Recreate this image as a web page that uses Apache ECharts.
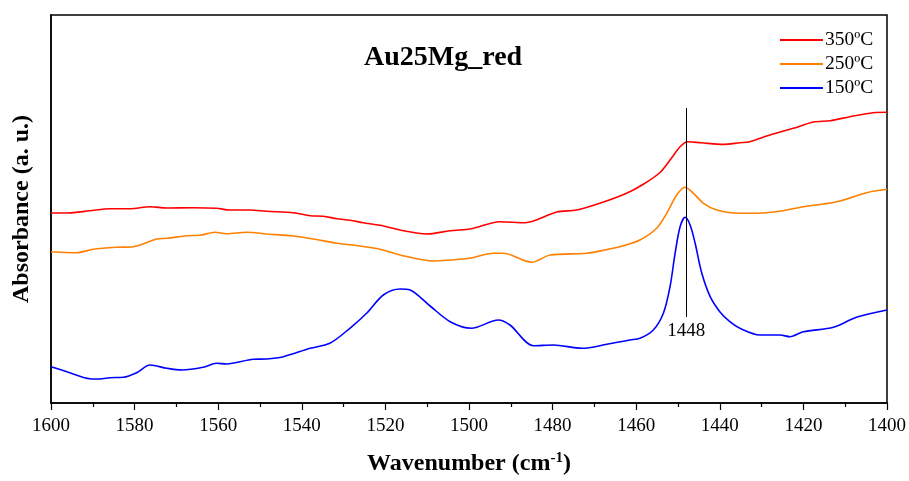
<!DOCTYPE html>
<html>
<head>
<meta charset="utf-8">
<script src="https://cdn.jsdelivr.net/npm/echarts@6/dist/echarts.min.js"></script>
<style>html,body{margin:0;padding:0;background:#fff;}#c{width:909px;height:481px;}</style>
</head>
<body>
<div id="c"></div>
<script>
// ---- data (wavenumber in cm-1, absorbance in arbitrary units) ----
const seriesNames = ['350ºC', '250ºC', '150ºC'];
const xTicks = [1600, 1580, 1560, 1540, 1520, 1500, 1480, 1460, 1440, 1420, 1400];
const peakPosition = 1448;
const peakMarkerRange = [86, 295];

const red_x = [1600,1596,1590.7,1585.9,1581.1,1576.3,1572.3,1566,1560.4,1557.2,1552.4,1548.4,1542,1538,1534.9,1531.6,1528.5,1525.3,1521.3,1516.5,1510.1,1504.5,1499.4,1492.6,1486.6,1479,1474.2,1468.7,1462.3,1458.3,1454.3,1451.9,1449.5,1447.7,1444.5,1439.2,1435.2,1432.8,1428,1422.4,1417.6,1413.6,1408.9,1403.3,1400];
const red_y = [190,190,192.3,194.3,194.3,196.3,195,195.3,194.7,193,193,191.7,190.3,187.3,186.7,184.3,182.7,180.3,177.7,173,169,172.3,174.3,181.3,180.3,191,193,199.7,209.7,218.7,230.5,243,256.3,261.3,260.3,258.6,260.3,261.3,268,274.7,281,282.3,286.3,290.3,290.7];

const orange_x = [1600,1593.9,1589.9,1584.3,1580.3,1574.7,1572.3,1567.5,1564.4,1560.8,1558,1553.2,1548.4,1542,1537.2,1531.6,1526.1,1521.3,1516.5,1508.5,1504.5,1499.8,1494.2,1491.8,1485,1480.6,1471.8,1467.5,1463.1,1459.1,1455.1,1452.7,1450.3,1448.3,1446.3,1443.9,1440.7,1435.2,1430,1424.8,1420,1415.2,1411.2,1404.9,1400];
const orange_y = [151.3,150.3,153.7,155.7,156.3,164,164.7,167.3,167.7,170.7,169.3,170.7,169,167,164,159.7,157,153.7,148,142,143,144.7,149.7,149.7,140.7,148,149.7,153,157.3,163,174.7,189.7,208,215.7,209.7,199.7,193,189.7,190,192.3,196.3,199,202,210.3,213.7];

const blue_x = [1600,1596.2,1590.7,1588.3,1585.9,1582.7,1579.5,1576.3,1572.3,1568.7,1563.6,1560.4,1558,1551.6,1548.4,1544.4,1538,1533.3,1528.5,1524.5,1520.5,1516.5,1514.1,1509.3,1504.5,1499.4,1493,1490.2,1484.6,1479.8,1473,1467,1461.5,1459.1,1455.9,1453.5,1451.9,1450.7,1449.5,1448.3,1447.1,1445.9,1444.3,1442.3,1440,1437.6,1435.2,1430.4,1425.6,1423.2,1420,1412.8,1407.3,1400];
const blue_y = [36.3,31.3,24.3,24,25.3,25.7,30.3,38,34.7,33,35.7,39.7,39,43.7,44,46.3,54.7,59.7,74.7,89.7,108,114,113,97,81.3,74.7,83,78,57.3,58,54.7,58.7,63,64.7,73,89.7,116.3,149.7,176.3,185.7,178,159.7,129.7,106.3,91.3,81.3,74.7,68,68,66.3,71.3,75.7,85.7,93];

const colors = ['#ff0000', '#ff8000', '#0000ff'];
const FONT = '"Liberation Serif", "Times New Roman", serif';

function zip(xs, ys) { return xs.map((x, i) => [x, ys[i]]); }

const chart = echarts.init(document.getElementById('c'), null, { renderer: 'canvas' });

const seriesData = [zip(red_x, red_y), zip(orange_x, orange_y), zip(blue_x, blue_y)];

const series = seriesNames.map((name, i) => ({
  name: name,
  type: 'line',
  data: seriesData[i],
  showSymbol: false,
  symbol: 'none',
  smooth: 0.3,
  lineStyle: { color: colors[i], width: 1.6 },
  itemStyle: { color: colors[i] },
  z: 3 - i
}));

series[2].markLine = {
  silent: true,
  symbol: ['none', 'none'],
  animation: false,
  lineStyle: { color: '#000', width: 1, type: 'solid' },
  label: {
    show: true,
    position: 'start',
    formatter: String(peakPosition),
    color: '#000',
    fontFamily: FONT,
    fontSize: 19,
    distance: 5
  },
  data: [[{ coord: [peakPosition, peakMarkerRange[0]] }, { coord: [peakPosition, peakMarkerRange[1]] }]]
};

chart.setOption({
  animation: false,
  backgroundColor: '#fff',
  title: {
    text: 'Au25Mg_red',
    left: 359,
    top: 39,
    textStyle: { fontFamily: FONT, fontWeight: 'bold', fontSize: 28, color: '#000' }
  },
  legend: {
    orient: 'vertical',
    left: 775,
    top: 25,
    itemWidth: 43,
    itemHeight: 2,
    itemGap: 4,
    icon: 'rect',
    data: seriesNames.map(n => ({ name: n, icon: 'rect' })),
    textStyle: { fontFamily: FONT, fontSize: 19.5, color: '#000', lineHeight: 20, padding: [0, 0, 0, -3] }
  },
  grid: {
    left: 51, right: 22, top: 15, bottom: 78,
    show: true, borderColor: '#000', borderWidth: 1.5, backgroundColor: 'transparent'
  },
  xAxis: {
    type: 'value',
    inverse: true,
    min: 1400,
    max: 1600,
    interval: 20,
    name: 'Wavenumber (cm{sup|-1})',
    nameLocation: 'middle',
    nameGap: 48,
    nameTextStyle: {
      fontFamily: FONT, fontWeight: 'bold', fontSize: 24, color: '#000',
      rich: { sup: { fontFamily: FONT, fontWeight: 'bold', fontSize: 15, color: '#000', verticalAlign: 'bottom', padding: [0, 0, 10, 0] } }
    },
    axisLine: { show: true, onZero: false, lineStyle: { color: '#000', width: 1.5 } },
    axisTick: { show: true, inside: false, length: 7, lineStyle: { color: '#000', width: 1.2 } },
    minorTick: { show: true, splitNumber: 2, length: 4, lineStyle: { color: '#000', width: 1.2 } },
    axisLabel: {
      margin: 14, fontFamily: FONT, fontSize: 19, color: '#000',
      formatter: v => (xTicks.indexOf(v) >= 0 ? String(v) : '')
    },
    splitLine: { show: false }
  },
  yAxis: {
    type: 'value',
    min: 0,
    max: 388,
    name: 'Absorbance (a. u.)',
    nameLocation: 'middle',
    nameGap: 17,
    nameTextStyle: { fontFamily: FONT, fontWeight: 'bold', fontSize: 24, color: '#000' },
    axisLine: { show: true, onZero: false, lineStyle: { color: '#000', width: 1.5 } },
    axisTick: { show: false },
    axisLabel: { show: false },
    splitLine: { show: false }
  },
  series: series
});
</script>
</body>
</html>
